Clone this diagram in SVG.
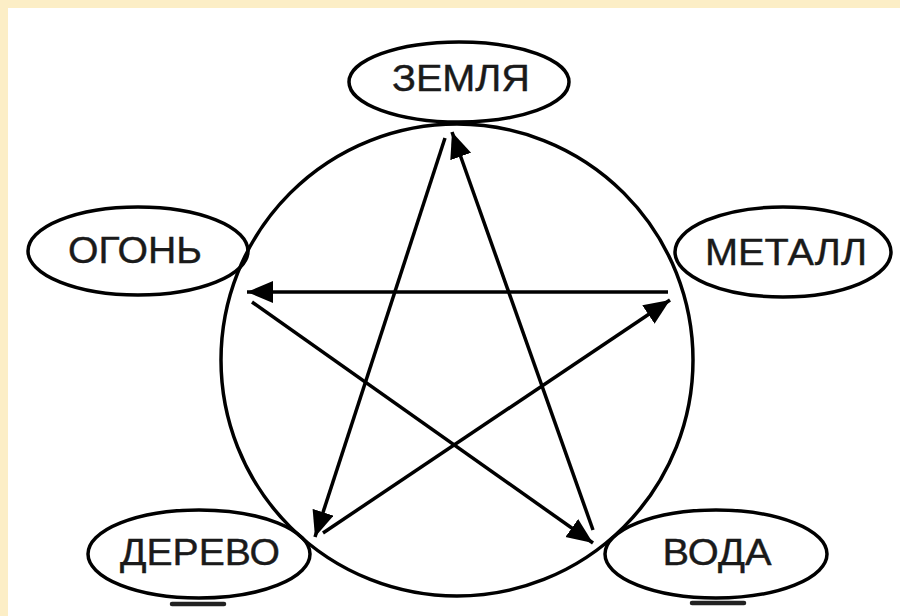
<svg xmlns="http://www.w3.org/2000/svg" width="900" height="616" viewBox="0 0 900 616">
<defs>
<marker id="ah" markerUnits="userSpaceOnUse" markerWidth="28" markerHeight="24" refX="26" refY="11" orient="auto">
<path d="M0,0 L26,11 L0,22 z" fill="#000"/>
</marker>
<style>
.node ellipse{fill:none;stroke:#000;stroke-width:3.5}
.node text{font-family:"Liberation Sans",Arial,sans-serif;font-size:37px;fill:#1a1a1a;stroke:#1a1a1a;stroke-width:0.4;text-anchor:middle}
.conn line{stroke:#000;stroke-width:3.5;marker-end:url(#ah)}
.shadow{stroke:#222;stroke-width:4.5;stroke-linecap:round}
</style>
</defs>
<rect x="0" y="0" width="900" height="616" fill="#FCEEC6"/>
<rect x="8" y="8" width="892" height="608" fill="#fff"/>
<circle id="ring" cx="457" cy="360" r="236" fill="none" stroke="#000" stroke-width="3.5"/>
<line class="shadow" x1="172" y1="604" x2="224" y2="604"/>
<line class="shadow" x1="692" y1="603" x2="744" y2="603"/>
<g id="zemlya" class="node"><ellipse cx="459" cy="82" rx="110" ry="40"/><text x="461" y="91" textLength="138" lengthAdjust="spacingAndGlyphs">ЗЕМЛЯ</text></g>
<g id="ogon" class="node"><ellipse cx="138" cy="251" rx="110" ry="44"/><text x="135" y="263" textLength="134" lengthAdjust="spacingAndGlyphs">ОГОНЬ</text></g>
<g id="metall" class="node"><ellipse cx="783" cy="252" rx="108" ry="45"/><text x="786" y="265" textLength="162" lengthAdjust="spacingAndGlyphs">МЕТАЛЛ</text></g>
<g id="derevo" class="node"><ellipse cx="199" cy="554" rx="111" ry="44"/><text x="200" y="565" textLength="160" lengthAdjust="spacingAndGlyphs">ДЕРЕВО</text></g>
<g id="voda" class="node"><ellipse cx="716" cy="554" rx="111" ry="44"/><text x="717" y="565" textLength="109" lengthAdjust="spacingAndGlyphs">ВОДА</text></g>
<g id="connectors" class="conn">
<line x1="445" y1="138" x2="315" y2="537"/>
<line x1="323" y1="533" x2="670" y2="300"/>
<line x1="668" y1="292" x2="247" y2="292"/>
<line x1="252" y1="302" x2="593" y2="543"/>
<line x1="593" y1="530" x2="452" y2="132"/>
</g>
</svg>
